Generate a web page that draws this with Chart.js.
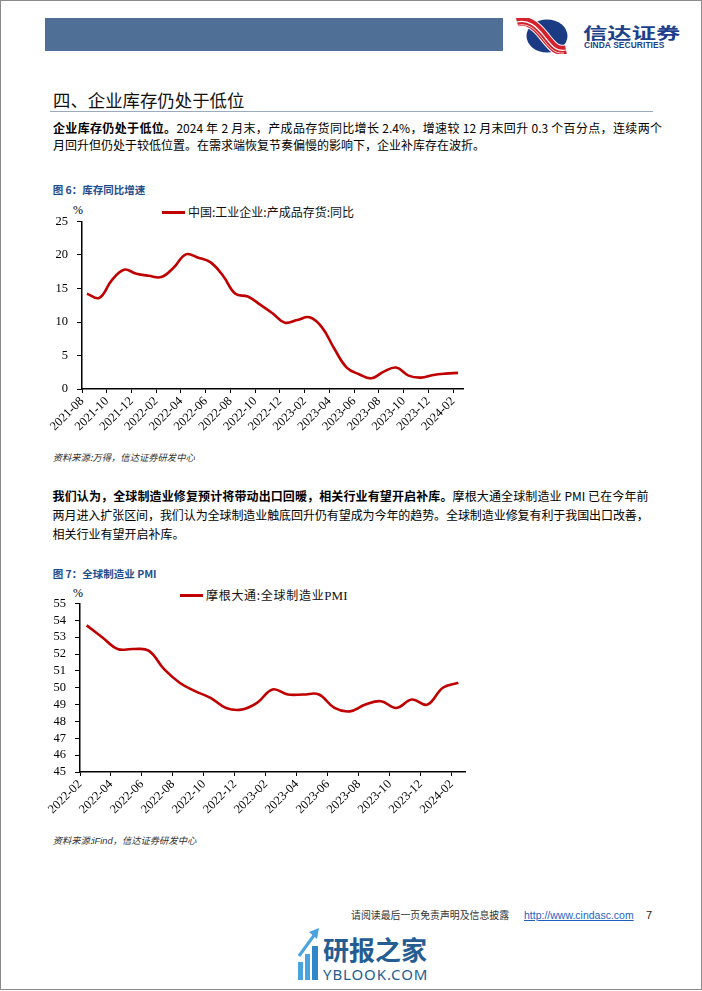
<!DOCTYPE html>
<html>
<head>
<meta charset="utf-8">
<script src="https://cdn.jsdelivr.net/npm/chart.js@4.4.1/dist/chart.umd.min.js"></script>
<style>
html,body{margin:0;padding:0;background:#fff;}
body{width:702px;height:991px;position:relative;overflow:hidden;font-family:"Noto Sans CJK SC","Noto Sans",sans-serif;color:#000;}
.abs{position:absolute;}
.para{font-size:12px;}
.jl{text-align:justify;text-align-last:justify;}
.ll{text-align:left;}
b{font-weight:bold;}
.cap{font-size:10.5px;line-height:14px;font-weight:bold;color:#1f4e8c;white-space:nowrap;}
.src{font-size:9.3px;line-height:12px;font-style:italic;color:#333;white-space:nowrap;}
.leg{white-space:nowrap;font-size:12px;line-height:16px;color:#111;}
.legline{height:3px;background:#c00000;}
.pct{font-family:"Liberation Serif",serif;font-size:12px;line-height:14px;}
</style>
</head>
<body>
<div class="abs" style="left:0;top:0;width:700px;height:988px;border:1px solid #8a8a8a;"></div>

<!-- header -->
<div class="abs" style="left:45px;top:18px;width:458px;height:33px;background:#4f6f97;"></div>
<svg class="abs" style="left:516px;top:18px" width="52" height="36" viewBox="0 0 52 36">
  <ellipse cx="31" cy="18" rx="20.5" ry="16.5" fill="#1b3b84"/>
  <path d="M1 4 C 12 1, 20 8, 28 18 S 40 34, 50 32" stroke="#ffffff" stroke-width="11" fill="none"/>
  <path d="M1 4 C 12 1, 20 8, 28 18 S 40 34, 50 32" stroke="#d4212b" stroke-width="9" fill="none"/>
  <path d="M1 4 C 12 1, 20 8, 28 18 S 40 34, 50 32" stroke="#ffffff" stroke-width="1.2" fill="none"/>
  <path d="M1 7.5 C 12 4.5, 19 11, 26 20 S 38 36, 48 35" stroke="#ffffff" stroke-width="0.8" fill="none"/>
</svg>
<div class="abs" style="left:583px;top:22px;font-size:16px;line-height:20px;font-weight:bold;color:#1d3f8c;transform:scaleX(1.52);transform-origin:0 0;white-space:nowrap;">信达证券</div>
<div class="abs" style="left:584px;top:40px;font-family:'Liberation Sans',Arial,sans-serif;font-size:8.4px;line-height:10px;font-weight:bold;color:#1d3f8c;white-space:nowrap;letter-spacing:0.1px;">CINDA SECURITIES</div>

<!-- title -->
<div class="abs" style="left:53px;top:89px;font-size:17.4px;line-height:22px;white-space:nowrap;color:#111;">四、企业库存仍处于低位</div>
<div class="abs" style="left:50px;top:110.5px;width:603px;height:1.5px;background:#9aaabf;"></div>

<!-- paragraph 1 -->
<div class="abs para" style="left:53px;top:118.5px;width:609px;line-height:17px;">
  <div class="jl"><b>企业库存仍处于低位。</b>2024 年 2 月末，产成品存货同比增长 2.4%，增速较 12 月末回升 0.3 个百分点，连续两个</div>
  <div class="ll">月回升但仍处于较低位置。在需求端恢复节奏偏慢的影响下，企业补库存在波折。</div>
</div>

<!-- figure 6 -->
<div class="abs cap" style="left:52.7px;top:183px;">图 6：库存同比增速</div>
<div class="abs pct" style="left:73px;top:203px;">%</div>
<div class="abs legline" style="left:162px;top:211px;width:23px;"></div>
<div class="abs leg" id="leg1" style="left:188px;top:204px;"></div>
<canvas id="c1" class="abs" style="left:40px;top:205px;" width="446" height="228"></canvas>
<div class="abs src" style="left:52.7px;top:451px;">资料来源:万得，信达证券研发中心</div>

<!-- paragraph 2 -->
<div class="abs para" style="left:52.6px;top:485.5px;width:596px;line-height:19px;">
  <div class="jl"><b>我们认为，全球制造业修复预计将带动出口回暖，相关行业有望开启补库。</b>摩根大通全球制造业 PMI 已在今年前</div>
  <div class="jl" style="letter-spacing:-0.2px;">两月进入扩张区间，我们认为全球制造业触底回升仍有望成为今年的趋势。全球制造业修复有利于我国出口改善，</div>
  <div class="ll">相关行业有望开启补库。</div>
</div>

<!-- figure 7 -->
<div class="abs cap" style="left:52.7px;top:567px;">图 7：全球制造业 PMI</div>
<div class="abs pct" style="left:73px;top:586px;">%</div>
<div class="abs legline" style="left:180px;top:593.5px;width:23px;"></div>
<div class="abs leg" id="leg2" style="left:206px;top:587px;letter-spacing:0.7px;"></div>
<canvas id="c2" class="abs" style="left:38px;top:587px;" width="450" height="229"></canvas>
<div class="abs src" style="left:52.7px;top:834px;">资料来源:<span style="font-family:'Liberation Sans',Arial,sans-serif;">iFind</span>，信达证券研发中心</div>

<!-- footer -->
<div class="abs" style="left:351px;top:908px;font-size:9.9px;line-height:14px;color:#333;white-space:nowrap;">请阅读最后一页免责声明及信息披露</div>
<div class="abs" style="left:524px;top:908px;font-family:'Liberation Sans',Arial,sans-serif;font-size:10.5px;line-height:14px;color:#1f5fbf;text-decoration:underline;white-space:nowrap;">http://www.cindasc.com</div>
<div class="abs" style="left:646px;top:908px;font-family:'Liberation Sans',Arial,sans-serif;font-size:11px;line-height:14px;color:#222;">7</div>

<!-- watermark -->
<svg class="abs" style="left:297px;top:926px" width="26" height="56" viewBox="0 0 26 56">
  <rect x="1" y="36" width="5" height="18" fill="#4aa3df"/>
  <rect x="8" y="28" width="5" height="26" fill="#4aa3df"/>
  <rect x="15" y="20" width="6" height="34" fill="#2f86c8"/>
  <path d="M2 30 L 18 8" stroke="#4aa3df" stroke-width="3" fill="none"/>
  <path d="M12 6 L 22 2 L 20 13 Z" fill="#4aa3df"/>
</svg>
<div class="abs" style="left:323px;top:931px;font-size:26px;line-height:36px;font-weight:bold;color:#245d92;white-space:nowrap;">研报之家</div>
<div class="abs" style="left:323px;top:964px;font-family:'Noto Sans',sans-serif;font-size:15px;line-height:20px;color:#245d92;white-space:nowrap;letter-spacing:0.9px;">YBLOOK.COM</div>

<script>
// ---- Figure 6 data: 中国 工业企业 产成品存货 同比 (%) ----
const invMonths = ['2021-08','2021-09','2021-10','2021-11','2021-12','2022-01','2022-02','2022-03','2022-04','2022-05','2022-06','2022-07','2022-08','2022-09','2022-10','2022-11','2022-12','2023-01','2023-02','2023-03','2023-04','2023-05','2023-06','2023-07','2023-08','2023-09','2023-10','2023-11','2023-12','2024-01','2024-02'];
const invValues = [14.2,13.6,16.2,17.8,17.2,16.9,16.7,18.1,20.1,19.6,18.9,16.9,14.2,13.8,12.6,11.3,9.9,10.3,10.7,9.2,6.0,3.2,2.2,1.6,2.6,3.2,2.0,1.7,2.1,2.3,2.4];
const invTickLabels = ['2021-08','2021-10','2021-12','2022-02','2022-04','2022-06','2022-08','2022-10','2022-12','2023-02','2023-04','2023-06','2023-08','2023-10','2023-12','2024-02'];
const invSeriesName = '中国:工业企业:产成品存货:同比';
const invYTicks = [0,5,10,15,20,25];

// ---- Figure 7 data: 摩根大通 全球制造业PMI ----
const pmiMonths = ['2022-02','2022-03','2022-04','2022-05','2022-06','2022-07','2022-08','2022-09','2022-10','2022-11','2022-12','2023-01','2023-02','2023-03','2023-04','2023-05','2023-06','2023-07','2023-08','2023-09','2023-10','2023-11','2023-12','2024-01','2024-02'];
const pmiValues = [53.7,53.0,52.3,52.3,52.2,51.1,50.3,49.8,49.4,48.8,48.7,49.1,49.9,49.6,49.6,49.6,48.8,48.6,49.0,49.2,48.8,49.3,49.0,50.0,50.3];
const pmiTickLabels = ['2022-02','2022-04','2022-06','2022-08','2022-10','2022-12','2023-02','2023-04','2023-06','2023-08','2023-10','2023-12','2024-02'];
const pmiSeriesName = '摩根大通:全球制造业PMI';
const pmiYTicks = [45,46,47,48,49,50,51,52,53,54,55];

document.getElementById('leg1').textContent = invSeriesName;
document.getElementById('leg2').innerHTML = pmiSeriesName.replace('PMI','<span style="font-family:\'Liberation Serif\',serif;font-size:13px;letter-spacing:0">PMI</span>');

function buildChart(canvasId, months, values, tickLabels, seriesName, yTicks, edge) {
  const pts = values.map((v, i) => ({x: i, y: v}));
  const axisFont = {family: '"Liberation Serif", "Times New Roman", serif', size: 12.5};
  return new Chart(document.getElementById(canvasId), {
    type: 'line',
    data: {datasets: [{label: seriesName, data: pts, borderColor: '#c00000', backgroundColor: '#c00000', borderWidth: 2.6, pointRadius: 0, tension: 0.4, fill: false}]},
    options: {
      responsive: false, animation: false, devicePixelRatio: 1, events: [],
      layout: {padding: {top: 0, right: 23, bottom: 0, left: 0}},
      plugins: {legend: {display: false}, tooltip: {enabled: false}},
      scales: {
        x: {
          type: 'linear', min: -edge, max: months.length - 1 + edge,
          afterBuildTicks: (s) => { s.ticks = tickLabels.map(l => ({value: months.indexOf(l) - edge})); },
          afterFit: (s) => { s.height = 44; },
          ticks: {autoSkip: false, minRotation: 45, maxRotation: 45, padding: 1, color: '#000', font: axisFont, callback: (v, i) => tickLabels[i]},
          grid: {drawOnChartArea: false, drawTicks: true, tickLength: 4, color: '#000', lineWidth: 1},
          border: {display: true, color: '#000', width: 1.5}
        },
        y: {
          min: yTicks[0], max: yTicks[yTicks.length - 1],
          afterBuildTicks: (s) => { s.ticks = yTicks.map(v => ({value: v})); },
          afterFit: (s) => { s.width = 42; },
          ticks: {autoSkip: false, padding: 9, color: '#000', font: axisFont},
          grid: {drawOnChartArea: false, drawTicks: true, tickLength: 5, color: '#000', lineWidth: 1},
          border: {display: true, color: '#000', width: 1.5}
        }
      }
    }
  });
}

buildChart('c1', invMonths, invValues, invTickLabels, invSeriesName, invYTicks, 0.4);
buildChart('c2', pmiMonths, pmiValues, pmiTickLabels, pmiSeriesName, pmiYTicks, 0.43);
</script>
</body>
</html>
